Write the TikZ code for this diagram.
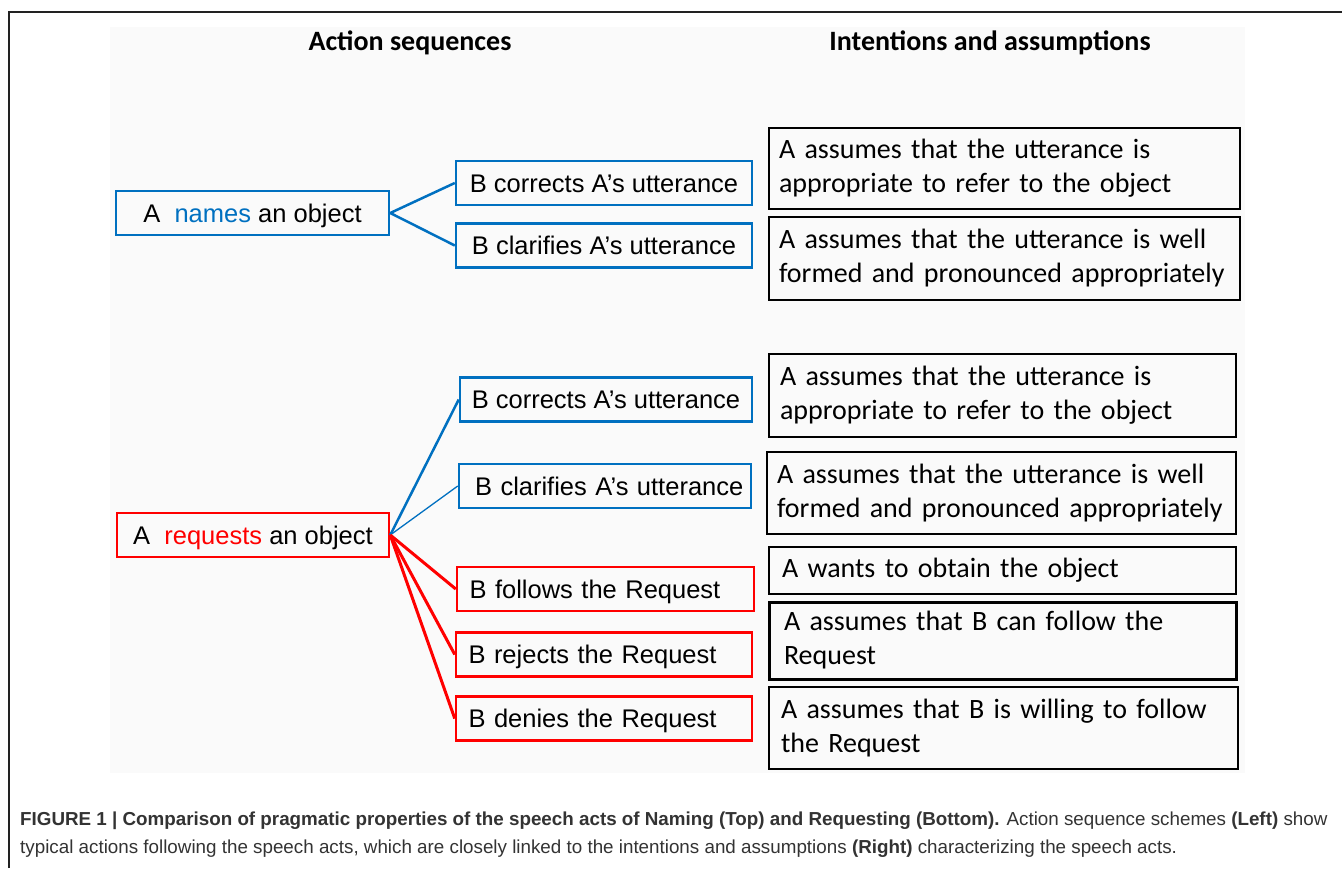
\documentclass[tikz,border=0pt]{standalone}
\usepackage{fontspec}
\setmainfont{Liberation Sans}
\newfontfamily\calib{Carlito}
\definecolor{offblue}{HTML}{0070C0}
\definecolor{offred}{HTML}{FF0000}
\definecolor{framegray}{HTML}{222222}
\definecolor{captiongray}{HTML}{333333}
\definecolor{panelgray}{HTML}{FAFAFA}
\begin{document}
\begin{tikzpicture}[x=1pt, y=-1pt,
  lbox/.style={draw, line width=2.5pt, inner ysep=0pt, minimum height=44pt,
    text height=18.3pt, text depth=0pt, font=\fontsize{25.5}{30}\selectfont},
  cbox/.style={lbox, inner xsep=0pt},
  leftbox/.style={lbox, align=left, inner xsep=12.5pt},
  rbox/.style={draw=black, line width=2pt, inner xsep=10pt, inner ysep=0pt,
    align=left, font=\calib\fontsize{28}{34}\selectfont},
  blueline/.style={offblue, line width=2.5pt},
  thinblue/.style={offblue, line width=1.3pt},
  redline/.style={offred, line width=3pt},
  heading/.style={font=\calib\bfseries\fontsize{28}{34}\selectfont},
  caption/.style={anchor=base west, inner sep=0pt, text=captiongray,
    font=\fontsize{18.8}{28}\selectfont}
]
\useasboundingbox (0,0) rectangle (1342,868);
\fill[white] (0,0) rectangle (1342,868);

% figure panel and frame
\fill[panelgray] (110,27) rectangle (1245,773);
\draw[framegray, line width=2.5pt] (9,868) -- (9,12) -- (1342,12);

% column headings
\node[heading] (hleft) at (410,43) {Action sequences};
\node[heading] (hright) at (990,43) {Intentions and assumptions};

% naming: action sequences
\node[cbox, draw=offblue, minimum width=273pt] (nam) at (252.5,213)
  {A\ \ \textcolor{offblue}{names} an object};
\node[cbox, draw=offblue, minimum width=296pt] (cor1) at (604,183)
  {B corrects A’s utterance};
\node[cbox, draw=offblue, minimum width=296pt] (cla1) at (604,245.5)
  {B clarifies A’s utterance};

% requesting: action sequences
\node[cbox, draw=offred, minimum width=272pt] (req) at (253,535)
  {A\ \ \textcolor{offred}{requests} an object};
\node[cbox, draw=offblue, minimum width=292pt] (cor2) at (606,399.5)
  {B corrects A’s utterance};
\node[leftbox, draw=offblue, inner xsep=16pt, text width=260pt] (cla2) at (605,486)
  {\mbox{B clarifies A’s utterance}};
\node[leftbox, draw=offred, text width=272pt] (fol) at (605.5,589)
  {B follows the Request};
\node[leftbox, draw=offred, text width=271pt] (rej) at (604,654.5)
  {B rejects the Request};
\node[leftbox, draw=offred, text width=271pt] (den) at (604,718.5)
  {B denies the Request};

% connectors
\draw[blueline] (nam.east) -- (cor1.west);
\draw[blueline] (nam.east) -- (cla1.west);
\draw[blueline] (req.east) -- (cor2.west);
\draw[thinblue] (req.east) -- (cla2.west);
\draw[redline] (req.east) -- (fol.west);
\draw[redline] (req.east) -- (rej.west);
\draw[redline] (req.east) -- (den.west);

% intentions and assumptions
\node[rbox, text width=451pt, minimum height=81pt] (r1) at (1004.5,168.5)
  {A assumes that the utterance is\\appropriate to refer to the object};
\node[rbox, text width=451pt, minimum height=83pt] (r2) at (1004.5,258.5)
  {A assumes that the utterance is well\\formed and pronounced appropriately};
\node[rbox, inner xsep=11pt, text width=445pt, minimum height=83pt] (r3) at (1002.5,395.5)
  {A assumes that the utterance is\\appropriate to refer to the object};
\node[rbox, text width=449pt, minimum height=82pt] (r4) at (1001.5,493)
  {A assumes that the utterance is well\\formed and pronounced appropriately};
\node[rbox, inner xsep=13pt, text width=441pt, minimum height=47pt] (r5) at (1002.5,570.5)
  {A wants to obtain the object};
\node[rbox, line width=3pt, inner xsep=15pt, text width=437pt, minimum height=77pt] (r6) at (1002.5,640.5)
  {A assumes that B can follow the\\Request};
\node[rbox, inner xsep=12pt, text width=445pt, minimum height=82pt] (r7) at (1003.5,728)
  {A assumes that B is willing to follow\\the Request};

% caption
\node[caption] (cap1) at (20,825)
  {\textbf{FIGURE 1 | Comparison of pragmatic properties of the speech acts of Naming (Top) and Requesting (Bottom).} Action sequence schemes \textbf{(Left)} show};
\node[caption] (cap2) at (20,853)
  {typical actions following the speech acts, which are closely linked to the intentions and assumptions \textbf{(Right)} characterizing the speech acts.};
\end{tikzpicture}
\end{document}
